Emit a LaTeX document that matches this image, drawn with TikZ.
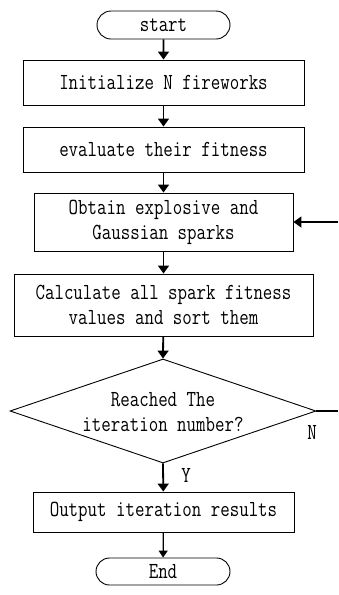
\documentclass[tikz,border=0pt]{standalone}
\usepackage{fontspec}
\setmainfont{Latin Modern Mono}[FakeStretch=0.8]
\usetikzlibrary{shapes.geometric,shapes.misc,arrows.meta}
\begin{document}
\begin{tikzpicture}[x=1pt,y=1pt,
  every node/.style={font=\fontsize{23}{25}\selectfont},
  procbox/.style={draw,line width=0.9pt,inner sep=0pt,align=center},
  termbox/.style={draw,line width=0.9pt,rounded rectangle,inner sep=0pt},
  flowarrow/.style={line width=1.8pt,-{Triangle[width=11pt,length=8pt]}},
  thinarrow/.style={line width=1.2pt,-{Triangle[width=9pt,length=7pt]}},
  lbl/.style={inner sep=0pt}]
\useasboundingbox (0,0) rectangle (338,-595);
\node[termbox,minimum width=133pt,minimum height=28pt] (start) at (163.5,-25) {start};
\node[procbox,minimum width=281pt,minimum height=45pt] (init) at (163.5,-82.5) {Initialize N fireworks};
\node[procbox,minimum width=281pt,minimum height=45pt] (eval) at (163.5,-149.5) {evaluate their fitness};
\node[procbox,minimum width=259pt,minimum height=58pt] (obtain) at (163.5,-222) {Obtain explosive and\\Gaussian sparks};
\node[procbox,minimum width=299pt,minimum height=62pt] (calc) at (163.5,-305) {Calculate all spark fitness\\values and sort them};
\node[diamond,draw,line width=0.9pt,minimum width=306pt,minimum height=104pt,inner sep=0pt] (dec) at (163,-411) {};
\node[lbl,align=center] (dectext) at (163,-412) {Reached The\\iteration number?};
\node[procbox,minimum width=261pt,minimum height=40pt] (out) at (163.5,-512) {Output iteration results};
\node[termbox,minimum width=134pt,minimum height=27pt] (end) at (163,-571.5) {End};
\coordinate (fbin) at (338,-222);
\coordinate (fbout) at (338,-411);
\node[lbl] (ylab) at (186,-475) {Y};
\node[lbl] (nlab) at (312,-432) {N};
\draw[flowarrow] (start) -- (init);
\draw[flowarrow] (init) -- (eval);
\draw[flowarrow] (eval) -- (obtain);
\draw[flowarrow] (obtain) -- (calc);
\draw[flowarrow] (calc) -- (dec.north);
\draw[flowarrow] (dec.south) -- (out);
\draw[thinarrow] (out) -- (end);
\draw[flowarrow] (fbin) -- (obtain.east);
\draw[line width=1.8pt] (dec.east) -- (fbout);
\end{tikzpicture}
\end{document}
